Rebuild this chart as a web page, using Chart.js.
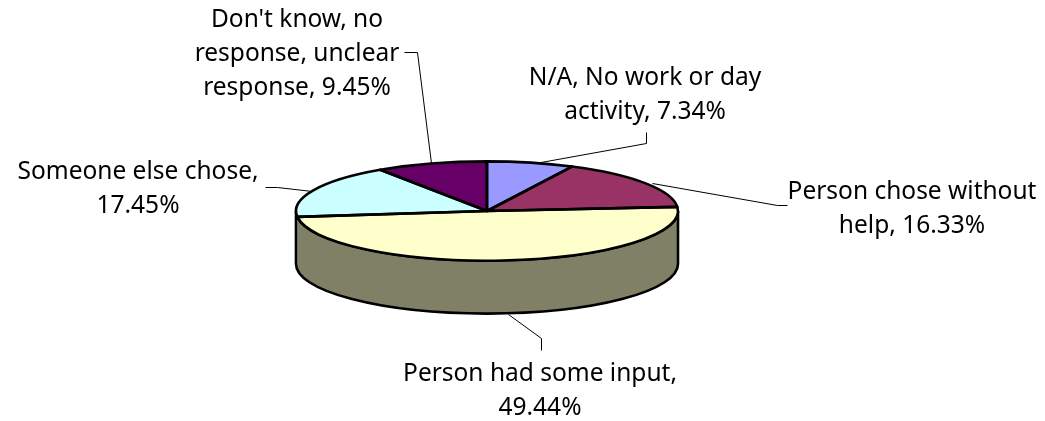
<!DOCTYPE html>
<html>
<head>
<meta charset="utf-8">
<style>html,body{margin:0;padding:0;background:#fff}canvas{display:block}</style>
<script src="https://cdn.jsdelivr.net/npm/chart.js@4"></script>
</head>
<body>
<canvas id="c" width="1045" height="421"></canvas>
<script>
const categories = ["N/A, No work or day activity","Person chose without help","Person had some input","Someone else chose","Don't know, no response, unclear response"];
const shares = [7.34,16.33,49.44,17.45,9.45];
const sliceColors = ["#9999FF","#993366","#FFFFCC","#CCFFFF","#660066"];
const wallColors = ["#4C4C80","#4C1A33","#808066","#668080","#330033"];
const labelLines = [
  ["N/A, No work or day","activity, 7.34%"],
  ["Person chose without","help, 16.33%"],
  ["Person had some input,","49.44%"],
  ["Someone else chose,","17.45%"],
  ["Don't know, no","response, unclear","response, 9.45%"]
];
// label layout: centre x, first baseline y
const labelAnchors = [[645,85],[912,199],[540,381],[138,179],[297,27]];
const leaders = [
  [[646,132],[646,143],[535,163]],
  [[787,205],[777,205],[652,183]],
  [[541,350],[541,338],[508,314]],
  [[265,187],[277,187],[312,191]],
  [[404,52],[417,52],[431,163]]
];
const squash = 0.26, depth = 53, FONT = '24.5px "Noto Sans"', LINE_H = 34;

function ellipsePath(ctx, a, cy, r0, r1){
  ctx.save();ctx.translate(a.x,cy);ctx.scale(1,squash);
  ctx.arc(0,0,a.outerRadius,r0,r1);
  ctx.restore();
}
const pie3d = {
  id:'pie3d',
  beforeDatasetsDraw(chart){
    const ctx = chart.ctx, arcs = chart.getDatasetMeta(0).data;
    arcs.forEach((a,i)=>{
      const s = Math.max(a.startAngle,0), e = Math.min(a.endAngle,Math.PI);
      if(e<=s) return;
      ctx.beginPath();
      ellipsePath(ctx,a,a.y,s,e);
      ctx.save();ctx.translate(a.x,a.y+depth);ctx.scale(1,squash);
      ctx.arc(0,0,a.outerRadius,e,s,true);
      ctx.restore();
      ctx.closePath();
      ctx.fillStyle = wallColors[i];ctx.fill();
    });
    const a0 = arcs[0];
    ctx.beginPath();
    ctx.save();ctx.translate(a0.x,a0.y);ctx.scale(1,squash);
    ctx.arc(0,0,a0.outerRadius,0,Math.PI);
    ctx.restore();
    ctx.save();ctx.translate(a0.x,a0.y+depth);ctx.scale(1,squash);
    ctx.arc(0,0,a0.outerRadius,Math.PI,0,true);
    ctx.restore();
    ctx.closePath();
    ctx.lineWidth=2.6;ctx.strokeStyle='#000';ctx.stroke();
    ctx.save();
    ctx.translate(a0.x,a0.y);ctx.scale(1,squash);ctx.translate(-a0.x,-a0.y);
  },
  afterDatasetsDraw(chart){
    const ctx = chart.ctx, arcs = chart.getDatasetMeta(0).data;
    ctx.restore();
    ctx.lineWidth=2.6;ctx.strokeStyle='#000';ctx.lineJoin='round';
    arcs.forEach(a=>{
      ctx.beginPath();
      ctx.save();ctx.translate(a.x,a.y);ctx.scale(1,squash);
      ctx.moveTo(0,0);
      ctx.arc(0,0,a.outerRadius,a.startAngle,a.endAngle);
      ctx.closePath();
      ctx.restore();
      ctx.stroke();
    });
  },
  afterDraw(chart){
    const ctx = chart.ctx;
    ctx.save();
    ctx.strokeStyle='#000';ctx.lineWidth=1;
    leaders.forEach(p=>{
      ctx.beginPath();
      p.forEach((q,i)=> i?ctx.lineTo(q[0]+.5,q[1]+.5):ctx.moveTo(q[0]+.5,q[1]+.5));
      ctx.stroke();
    });
    ctx.font=FONT;ctx.fillStyle='#000';ctx.textAlign='center';ctx.textBaseline='alphabetic';
    labelLines.forEach((ls,i)=>ls.forEach((t,j)=>ctx.fillText(t,labelAnchors[i][0],labelAnchors[i][1]+j*LINE_H)));
    ctx.restore();
  }
};
new Chart(document.getElementById('c'),{
  type:'pie',
  data:{labels:categories,datasets:[{data:shares,backgroundColor:sliceColors,borderWidth:0,radius:191,clip:false}]},
  options:{
    responsive:false,animation:false,
    layout:{padding:{left:0,right:71,top:1,bottom:0}},
    plugins:{legend:{display:false},tooltip:{enabled:false},title:{display:false}}
  },
  plugins:[pie3d]
});
</script>
</body>
</html>
